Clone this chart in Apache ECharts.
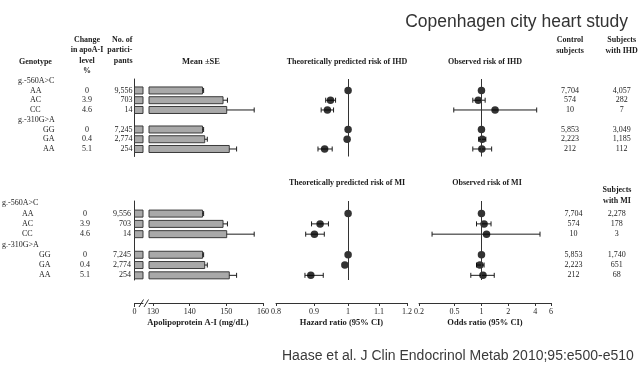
<!DOCTYPE html>
<html>
<head>
<meta charset="utf-8">
<script src="https://cdn.jsdelivr.net/npm/echarts@6/dist/echarts.min.js"></script>
<style>
  html, body { margin: 0; padding: 0; background: #fff; }
  #chart { width: 638px; height: 371px; }
</style>
</head>
<body>
<div id="chart"></div>
<script>
// ---- data -------------------------------------------------------------
const loci = ['g.-560A>C', 'g.-310G>A'];
const genotypes = ['AA', 'AC', 'CC', 'GG', 'GA', 'AA'];
const apoChangePct = ['0', '3.9', '4.6', '0', '0.4', '5.1'];
const participants = ['9,556', '703', '14', '7,245', '2,774', '254'];
const apoMean = [143.5, 149.1, 150.1, 143.5, 144.1, 150.8];
const apoSE = [0.3, 1.2, 7.5, 0.3, 0.7, 2.0];

const hrIHD = [1, 0.947, 0.938, 1, 0.997, 0.930];
const hrIHDLow = [null, 0.933, 0.920, null, null, 0.911];
const hrIHDHigh = [null, 0.962, 0.956, null, null, 0.952];
const orIHD = [1, 0.92, 1.42, 1, 1.02, 1.01];
const orIHDLow = [null, 0.80, 0.49, null, 0.93, 0.80];
const orIHDHigh = [null, 1.10, 4.15, null, 1.12, 1.30];
const controlsIHD = ['7,704', '574', '10', '5,853', '2,223', '212'];
const casesIHD = ['4,057', '282', '7', '3,049', '1,185', '112'];

const hrMI = [1, 0.917, 0.901, 1, 0.990, 0.891];
const hrMILow = [null, 0.893, 0.877, null, null, 0.875];
const hrMIHigh = [null, 0.941, 0.929, null, null, 0.926];
const orMI = [1, 1.07, 1.14, 1, 0.96, 1.04];
const orMILow = [null, 0.88, 0.28, null, 0.88, 0.76];
const orMIHigh = [null, 1.28, 4.52, null, 1.07, 1.39];
const controlsMI = ['7,704', '574', '10', '5,853', '2,223', '212'];
const casesMI = ['2,278', '178', '3', '1,740', '651', '68'];

const apoTicks = [130, 140, 150, 160];
const hrTicks = [0.8, 0.9, 1, 1.1, 1.2];
const orTicks = [0.2, 0.5, 1, 2, 4, 6];

// ---- layout -----------------------------------------------------------
const SERIF = '"Liberation Serif", "DejaVu Serif", serif';
const SANS = '"Liberation Sans", Arial, sans-serif';
const INK = '#1c1c1c';
const BAR_FILL = '#a9a9a9';
const BAR_EDGE = '#3a3a3a';
const AXIS_BREAK = 128.9;          // apoA-I axis is broken between 0 and this value
const locusRows = [0, 4];
const dataRows = [1, 2, 3, 5, 6, 7];

const panels = [
  { top: 79, bottom: 156.5, row0: 80.7, step: 9.757, showAxis: false,
    hr: hrIHD, hrLo: hrIHDLow, hrHi: hrIHDHigh,
    or: orIHD, orLo: orIHDLow, orHi: orIHDHigh,
    controls: controlsIHD, cases: casesIHD,
    cols: { locus: 18, geno1: 30, geno2: 43, change: 87, n: 132.5, ctrl: 570, cases: 621.7 } },
  { top: 201, bottom: 280, row0: 203.3, step: 10.29, showAxis: true,
    hr: hrMI, hrLo: hrMILow, hrHi: hrMIHigh,
    or: orMI, orLo: orMILow, orHi: orMIHigh,
    controls: controlsMI, cases: casesMI,
    cols: { locus: 2, geno1: 22, geno2: 39, change: 85, n: 131, ctrl: 573.5, cases: 616.7 } }
];

const boxes = {
  table: { left: 0, width: 638 },
  stub:  { left: 134.5, width: 8.5 },
  bar:   { left: 149, width: 114 },
  hr:    { left: 276, width: 131 },
  or:    { left: 419, width: 132 }
};
const AXIS_OFFSET = 23;

const grid = [], xAxis = [], yAxis = [], series = [];

function axisCommon(show) {
  return {
    show: show,
    position: 'bottom',
    offset: AXIS_OFFSET,
    axisLine: { show: true, onZero: false, lineStyle: { color: '#333', width: 1 } },
    axisTick: { show: true, length: 3, lineStyle: { color: '#333' } },
    splitLine: { show: false },
    axisLabel: { color: INK, fontFamily: SERIF, fontSize: 8, margin: 5 },
    nameLocation: 'middle',
    nameGap: 15,
    nameTextStyle: { color: INK, fontFamily: SERIF, fontSize: 8.5, fontWeight: 'bold' }
  };
}

function fmtNum(v) { return String(+v.toFixed(2)); }

// one column of the table: text placed at (x, row) through the grid's axes
function textColumn(gi, x, rows, texts, align) {
  return {
    type: 'custom', xAxisIndex: gi, yAxisIndex: gi, silent: true,
    encode: { x: 0, y: 1 },
    itemStyle: { color: INK },
    data: rows.map((r) => [x, r]),
    renderItem: function (params, api) {
      const pt = api.coord([api.value(0), api.value(1)]);
      return { type: 'text', x: pt[0], y: pt[1],
        style: { text: texts[params.dataIndex], fill: INK, align: align, verticalAlign: 'middle',
                 font: 'normal 8px ' + SERIF } };
    }
  };
}

function renderStub(params, api) {
  const row = api.value(1);
  const a = api.coord([0, row]);
  const b = api.coord([Math.min(api.value(0), AXIS_BREAK), row]);
  const h = 7;
  return { type: 'rect', shape: { x: a[0], y: a[1] - h / 2, width: b[0] - a[0], height: h },
           style: { fill: BAR_FILL, stroke: BAR_EDGE, lineWidth: 1 } };
}

function renderApoBar(params, api) {
  const mean = api.value(0), row = api.value(1), se = api.value(2);
  const a = api.coord([AXIS_BREAK, row]);
  const b = api.coord([mean, row]);
  const e = api.coord([mean + se, row]);
  const h = 7, cap = 2.5;
  return { type: 'group', children: [
    { type: 'rect', shape: { x: a[0], y: a[1] - h / 2, width: b[0] - a[0], height: h },
      style: { fill: BAR_FILL, stroke: BAR_EDGE, lineWidth: 1 } },
    { type: 'line', shape: { x1: b[0], y1: b[1], x2: e[0], y2: e[1] }, style: { stroke: INK, lineWidth: 1 } },
    { type: 'line', shape: { x1: e[0], y1: e[1] - cap, x2: e[0], y2: e[1] + cap }, style: { stroke: INK, lineWidth: 1 } }
  ] };
}

function renderCI(params, api) {
  const row = api.value(2);
  const lo = api.coord([api.value(0), row]);
  const hi = api.coord([api.value(1), row]);
  const cap = 2.5;
  const st = { stroke: INK, lineWidth: 1 };
  return { type: 'group', children: [
    { type: 'line', shape: { x1: lo[0], y1: lo[1], x2: hi[0], y2: hi[1] }, style: st },
    { type: 'line', shape: { x1: lo[0], y1: lo[1] - cap, x2: lo[0], y2: lo[1] + cap }, style: st },
    { type: 'line', shape: { x1: hi[0], y1: hi[1] - cap, x2: hi[0], y2: hi[1] + cap }, style: st }
  ] };
}

function ciData(lo, hi) {
  const out = [];
  lo.forEach((l, i) => { if (l != null) out.push([l, hi[i], dataRows[i]]); });
  return out;
}

function forestSeries(gi, est, lo, hi) {
  return [
    { type: 'custom', xAxisIndex: gi, yAxisIndex: gi, silent: true,
      encode: { x: [0, 1], y: 2 }, itemStyle: { color: INK },
      data: ciData(lo, hi), renderItem: renderCI },
    { type: 'scatter', xAxisIndex: gi, yAxisIndex: gi, silent: true, z: 3,
      symbol: 'circle', symbolSize: 7.5, itemStyle: { color: '#000' },
      data: est.map((v, i) => [v, dataRows[i]]),
      markLine: { silent: true, symbol: 'none', label: { show: false },
                  lineStyle: { color: '#333', type: 'solid', width: 1 },
                  data: [{ xAxis: 1 }] } }
  ];
}

panels.forEach((p) => {
  const yMin = (p.top - p.row0) / p.step;
  const yMax = (p.bottom - p.row0) / p.step;
  const base = grid.length;
  ['table', 'stub', 'bar', 'hr', 'or'].forEach((k, j) => {
    grid.push({ left: boxes[k].left, width: boxes[k].width, top: p.top, height: p.bottom - p.top });
    const ya = { type: 'value', gridIndex: base + j, min: yMin, max: yMax, inverse: true, show: false };
    if (k === 'stub') {
      Object.assign(ya, { show: true, position: 'left',
        axisLine: { show: true, onZero: false, lineStyle: { color: '#333', width: 1 } },
        axisTick: { show: false }, axisLabel: { show: false }, splitLine: { show: false } });
    }
    yAxis.push(ya);
  });
  const gT = base, gS = base + 1, gB = base + 2, gH = base + 3, gO = base + 4;

  xAxis.push({ type: 'value', gridIndex: gT, min: 0, max: 638, show: false });
  const stubAx = axisCommon(p.showAxis);
  Object.assign(stubAx, { type: 'value', gridIndex: gS, min: 0, max: AXIS_BREAK });
  stubAx.axisTick.customValues = [0];
  stubAx.axisTick.length = 4;
  stubAx.axisLabel.customValues = [0];
  stubAx.axisLabel.formatter = fmtNum;
  xAxis.push(stubAx);
  const barAx = axisCommon(p.showAxis);
  Object.assign(barAx, { type: 'value', gridIndex: gB, min: AXIS_BREAK, max: 160, name: 'Apolipoprotein A-I (mg/dL)' });
  barAx.axisTick.customValues = apoTicks;
  barAx.axisLabel.customValues = apoTicks;
  barAx.axisLabel.formatter = fmtNum;
  barAx.nameTextStyle.padding = [0, 16, 0, 0];
  xAxis.push(barAx);
  const hrAx = axisCommon(p.showAxis);
  Object.assign(hrAx, { type: 'log', gridIndex: gH, min: hrTicks[0], max: hrTicks[hrTicks.length - 1], name: 'Hazard ratio (95% CI)' });
  hrAx.axisTick.customValues = hrTicks;
  hrAx.axisLabel.customValues = hrTicks;
  hrAx.axisLabel.formatter = fmtNum;
  xAxis.push(hrAx);
  const orAx = axisCommon(p.showAxis);
  Object.assign(orAx, { type: 'log', gridIndex: gO, min: orTicks[0], max: orTicks[orTicks.length - 1], name: 'Odds ratio (95% CI)' });
  orAx.axisTick.customValues = orTicks;
  orAx.axisLabel.customValues = orTicks;
  orAx.axisLabel.formatter = fmtNum;
  xAxis.push(orAx);

  // table columns
  const c = p.cols;
  series.push(textColumn(gT, c.locus, locusRows, loci, 'left'));
  series.push(textColumn(gT, c.geno1, dataRows.slice(0, 3), genotypes.slice(0, 3), 'left'));
  series.push(textColumn(gT, c.geno2, dataRows.slice(3), genotypes.slice(3), 'left'));
  series.push(textColumn(gT, c.change, dataRows, apoChangePct, 'center'));
  series.push(textColumn(gT, c.n, dataRows, participants, 'right'));
  series.push(textColumn(gT, c.ctrl, dataRows, p.controls, 'center'));
  series.push(textColumn(gT, c.cases, dataRows, p.cases, 'center'));

  // apoA-I bars (broken axis: stub + main part)
  series.push({ type: 'custom', xAxisIndex: gS, yAxisIndex: gS, silent: true, encode: { x: 0, y: 1 },
                itemStyle: { color: BAR_FILL },
                data: apoMean.map((v, i) => [v, dataRows[i]]), renderItem: renderStub });
  series.push({ type: 'custom', xAxisIndex: gB, yAxisIndex: gB, silent: true, encode: { x: 0, y: 1 },
                itemStyle: { color: BAR_FILL },
                data: apoMean.map((v, i) => [v, dataRows[i], apoSE[i]]), renderItem: renderApoBar });

  series.push(...forestSeries(gH, p.hr, p.hrLo, p.hrHi));
  series.push(...forestSeries(gO, p.or, p.orLo, p.orHi));
});

// ---- headings ----------------------------------------------------------
function txt(text, x, y, align, opts) {
  opts = opts || {};
  return { type: 'text', x: x, y: y, silent: true,
    style: { text: text, fill: opts.color || INK, align: align, verticalAlign: 'middle',
             font: (opts.weight || 'bold') + ' ' + (opts.size || 8) + 'px ' + (opts.family || SERIF) } };
}

const graphics = [
  txt('Genotype', 19, 62, 'left'),
  txt('Change', 87, 40, 'center'), txt('in apoA-I', 87, 50.3, 'center'),
  txt('level', 87, 61, 'center'), txt('%', 87, 70.7, 'center'),
  txt('No. of', 132.5, 40, 'right'), txt('partici-', 132.5, 50.3, 'right'), txt('pants', 132.5, 61, 'right'),
  txt('Mean ±SE', 201, 62, 'center', { size: 8.5 }),
  txt('Theoretically predicted risk of IHD', 347, 62, 'center'),
  txt('Observed risk of IHD', 485, 62, 'center'),
  txt('Control', 570, 40, 'center'), txt('subjects', 570, 50.7, 'center'),
  txt('Subjects', 621.7, 40, 'center'), txt('with IHD', 621.7, 50.7, 'center'),
  txt('Theoretically predicted risk of MI', 347, 183, 'center'),
  txt('Observed risk of MI', 487, 183, 'center'),
  txt('Subjects', 617, 190, 'center'), txt('with MI', 617, 201, 'center'),
  // break marks on the apoA-I axis
  { type: 'line', silent: true, shape: { x1: 139, y1: 307, x2: 143.5, y2: 299.5 }, style: { stroke: '#333', lineWidth: 1 } },
  { type: 'line', silent: true, shape: { x1: 144, y1: 307, x2: 148.5, y2: 299.5 }, style: { stroke: '#333', lineWidth: 1 } },
  txt('Haase et al. J Clin Endocrinol Metab 2010;95:e500-e510', 282, 356, 'left',
      { weight: 'normal', size: 14, family: SANS, color: '#3a3a3a' })
];

const chart = echarts.init(document.getElementById('chart'), null, { renderer: 'canvas' });
chart.setOption({
  animation: false,
  backgroundColor: '#fff',
  color: [INK],
  title: {
    text: 'Copenhagen city heart study', right: 5, top: 8,
    textStyle: { fontFamily: SANS, fontSize: 17.5, fontWeight: 'normal', color: '#333' }
  },
  grid: grid, xAxis: xAxis, yAxis: yAxis, series: series,
  graphic: graphics
});
</script>
</body>
</html>
